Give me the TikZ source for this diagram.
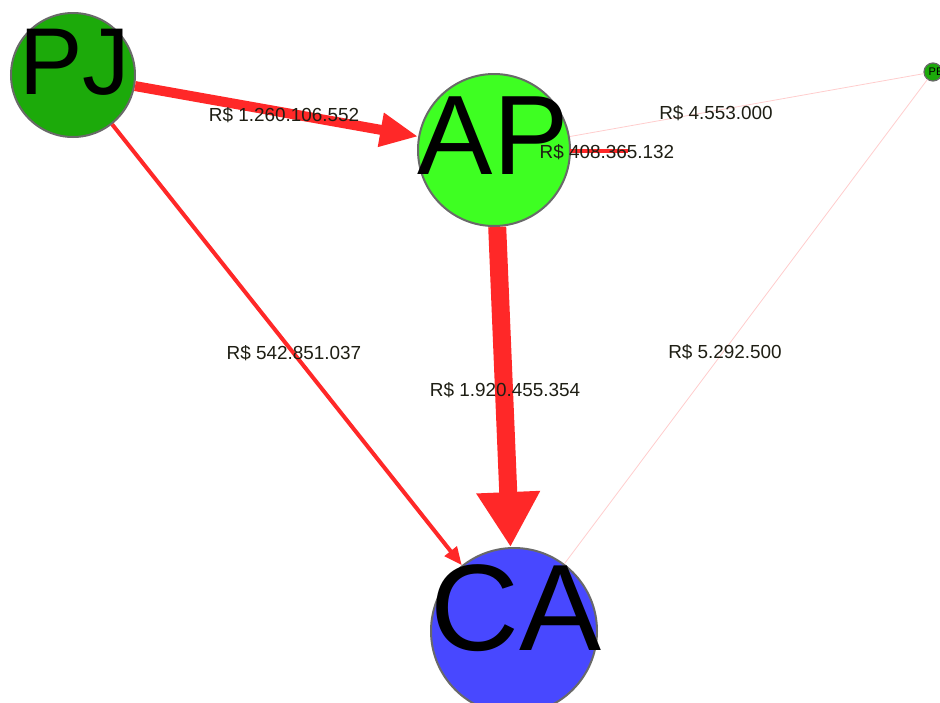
\documentclass[tikz,border=0pt]{standalone}
\usepackage{fontspec}
\setmainfont{Liberation Sans}
\usetikzlibrary{arrows.meta}
\definecolor{edgered}{RGB}{255,40,40}
\definecolor{edgepink}{RGB}{255,205,205}
\definecolor{pjgreen}{RGB}{28,170,10}
\definecolor{apgreen}{RGB}{62,255,34}
\definecolor{cablue}{RGB}{72,72,255}
\definecolor{outl}{RGB}{105,105,105}
\definecolor{labtxt}{RGB}{30,30,20}
\tikzset{
  vert/.style={circle, draw=outl, line width=2pt, inner sep=0pt},
  bigtxt/.style={inner sep=0pt, text=black},
  elabel/.style={inner sep=0pt, text=labtxt, font=\fontsize{18.9}{20}\selectfont},
  redge/.style={draw=edgered},
  pedge/.style={draw=edgepink, line width=0.8pt},
}
\begin{document}
\begin{tikzpicture}[x=1pt, y=-1pt]
\useasboundingbox (0,0) rectangle (940,702);
\clip (0,0) rectangle (940,702);
% nodes (circles)
\node[vert, fill=pjgreen, minimum size=124pt] (pj) at (73,75) {};
\node[vert, fill=apgreen, minimum size=152pt] (ap) at (494,150) {};
\node[vert, fill=cablue, minimum size=166pt] (ca) at (514,631) {};
\node[vert, fill=pjgreen, minimum size=18pt, line width=1.2pt] (pe) at (933,72) {};
\coordinate (apr) at (570,151);
\coordinate (aploop) at (628,151);
% edges
\draw[pedge] (ap) -- (pe);
\draw[pedge] (pe) -- (ca);
\draw[redge, line width=4pt] (apr) -- (aploop);
\draw[redge, line width=10pt, -{Triangle[length=38pt, width=32pt]}] (pj) -- (ap);
\draw[redge, line width=4pt, -{Triangle[length=18pt, width=15pt]}] (pj) -- (ca);
\draw[redge, line width=18pt, -{Triangle[length=55pt, width=60pt]}] (ap) -- (ca);
% node texts
\node[bigtxt, font=\fontsize{95}{95}\selectfont] (pjt) at (75,62) {PJ};
\node[bigtxt, font=\fontsize{113}{113}\selectfont] (apt) at (493,136) {AP};
\node[bigtxt, font=\fontsize{123}{123}\selectfont] (cat) at (516,608) {CA};
\node[bigtxt, font=\fontsize{11}{11}\selectfont] (pet) at (936,72) {PE};
% edge labels
\node[elabel] (l1) at (284,115) {R\$ 1.260.106.552};
\node[elabel] (l2) at (716,113) {R\$ 4.553.000};
\node[elabel] (l3) at (607,152) {R\$ 408.365.132};
\node[elabel] (l4) at (294,353) {R\$ 542.851.037};
\node[elabel] (l5) at (505,390) {R\$ 1.920.455.354};
\node[elabel] (l6) at (725,352) {R\$ 5.292.500};
\end{tikzpicture}
\end{document}
